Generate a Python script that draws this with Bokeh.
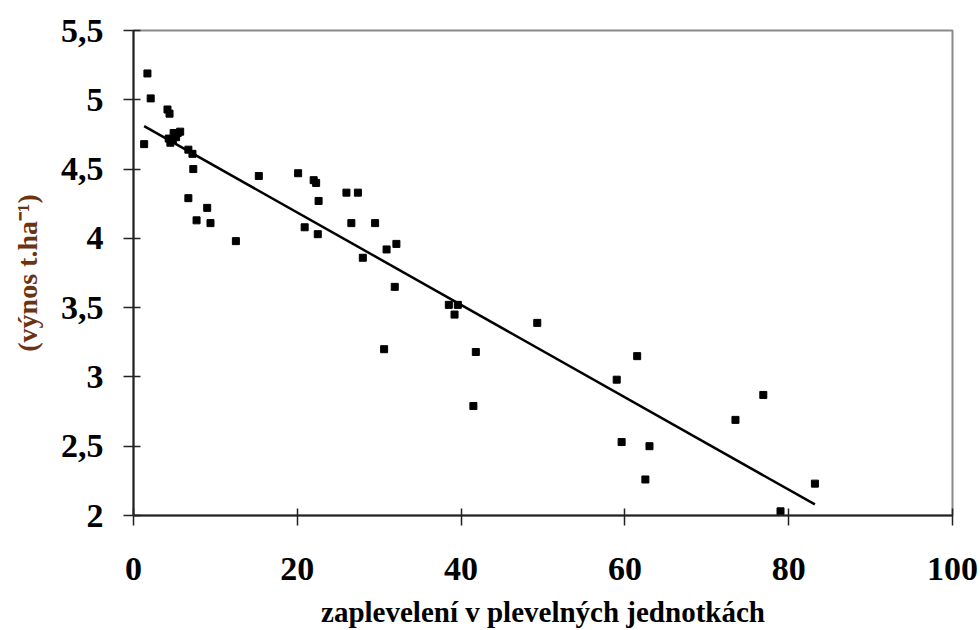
from bokeh.plotting import figure
from bokeh.models import Range1d, FixedTicker
from bokeh.embed import file_html
from bokeh.resources import INLINE

# data
weed_units = [1.3, 1.7, 2.1, 4.15, 4.4, 4.3, 4.5, 4.8, 4.9, 5.2, 5.4, 5.7,
              6.7, 7.2, 7.3, 6.7, 9.0, 7.7, 9.4, 12.5, 15.3, 20.1, 22.0, 22.3,
              22.6, 20.9, 22.5, 26.0, 27.4, 26.6, 29.5, 28.0, 30.9, 32.1, 31.9,
              30.6, 38.5, 39.6, 39.2, 49.3, 41.8, 41.5, 61.5, 59.0, 76.9, 73.5,
              59.6, 63.0, 62.5, 83.2, 79.0]
yield_t = [4.68, 5.19, 5.01, 4.93, 4.90, 4.72, 4.69, 4.71, 4.76, 4.73, 4.76, 4.77,
           4.64, 4.61, 4.50, 4.29, 4.22, 4.13, 4.11, 3.98, 4.45, 4.47, 4.42, 4.40,
           4.27, 4.08, 4.03, 4.33, 4.33, 4.11, 4.11, 3.86, 3.92, 3.96, 3.65,
           3.20, 3.52, 3.52, 3.45, 3.39, 3.18, 2.79, 3.15, 2.98, 2.87, 2.69,
           2.53, 2.50, 2.26, 2.23, 2.03]
trend_x = [1.3, 83.2]
trend_y = [4.81, 2.08]

x_ticks = [0, 20, 40, 60, 80, 100]
y_ticks = [2, 2.5, 3, 3.5, 4, 4.5, 5, 5.5]
y_tick_labels = ["2", "2,5", "3", "3,5", "4", "4,5", "5", "5,5"]

p = figure(width=980, height=630, output_backend="svg", toolbar_location=None,
           x_range=Range1d(0, 100), y_range=Range1d(2, 5.5),
           min_border_left=133, min_border_right=28, min_border_top=30,
           min_border_bottom=115)
p.background_fill_color = "white"
p.border_fill_color = "white"
p.grid.visible = False
p.outline_line_color = "#8a8a8a"
p.outline_line_width = 2

p.line(trend_x, trend_y, line_color="black", line_width=2.5)
p.scatter(weed_units, yield_t, marker="square", size=7, fill_color="black",
          line_color="black")

font = "Liberation Serif"
for ax in (p.xaxis[0], p.yaxis[0]):
    ax.axis_line_color = "#222222"
    ax.axis_line_width = 2
    ax.major_tick_line_color = "#222222"
    ax.major_tick_line_width = 1.5
    ax.major_tick_in = 7
    ax.major_tick_out = 10
    ax.minor_tick_line_color = None
    ax.major_label_text_font = font
    ax.major_label_text_font_style = "bold"
    ax.major_label_text_font_size = "34px"
    ax.major_label_text_color = "black"
    ax.axis_label_text_font = font
    ax.axis_label_text_font_style = "bold"

p.xaxis.ticker = FixedTicker(ticks=x_ticks)
p.yaxis.ticker = FixedTicker(ticks=y_ticks)
p.yaxis.major_label_overrides = {t: l for t, l in zip(y_ticks, y_tick_labels)}
p.xaxis.major_label_standoff = 32
p.yaxis.major_label_standoff = 20

p.xaxis.axis_label = "zaplevelení v plevelných jednotkách"
p.xaxis.axis_label_text_font_size = "29px"
p.xaxis.axis_label_text_color = "black"
p.xaxis.axis_label_standoff = 13
p.yaxis.axis_label = "(výnos t.ha⁻¹)"
p.yaxis.axis_label_text_font_size = "28px"
p.yaxis.axis_label_text_color = "#6b3310"
p.yaxis.axis_label_standoff = 15

open("out.html", "w").write(file_html(p, INLINE))
